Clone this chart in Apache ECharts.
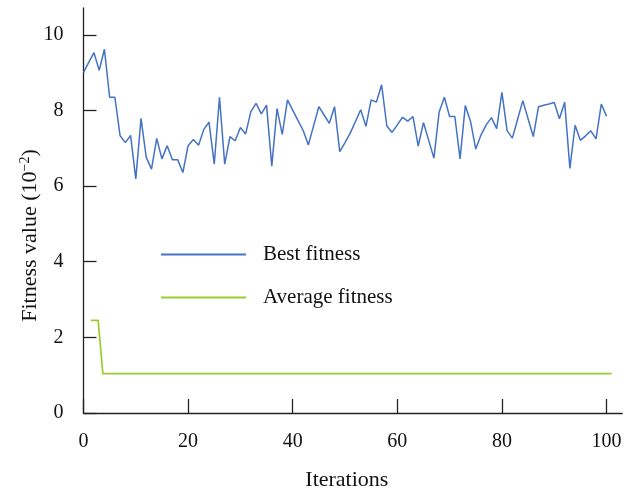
<!DOCTYPE html>
<html>
<head>
<meta charset="utf-8">
<script src="https://cdn.jsdelivr.net/npm/echarts@6/dist/echarts.min.js"></script>
<style>
  html, body { margin: 0; padding: 0; background: #fff; }
  #chart { width: 625px; height: 490px; }
</style>
</head>
<body>
<div id="chart"></div>
<script>
// Best fitness per iteration (units of 10^-2)
const bestIterations = Array.from({ length: 101 }, (_, i) => i);
const bestFitness = [
  9.01, 9.27, 9.53, 9.06, 9.62, 8.35, 8.35, 7.33, 7.15, 7.34,
  6.19, 7.79, 6.76, 6.45, 7.26, 6.72, 7.07, 6.70, 6.70, 6.36,
  7.07, 7.23, 7.08, 7.50, 7.69, 6.58, 8.35, 6.58, 7.31, 7.20,
  7.55, 7.38, 7.97, 8.19, 7.91, 8.14, 6.53, 8.05, 7.37, 8.28,
  8.01, 7.74, 7.47, 7.09, 7.60, 8.10, 7.88, 7.66, 8.10, 6.91,
  7.15, 7.40, 7.71, 8.02, 7.58, 8.28, 8.22, 8.68, 7.59, 7.42,
  7.62, 7.82, 7.72, 7.84, 7.06, 7.68, 7.21, 6.74, 7.96, 8.35,
  7.84, 7.84, 6.72, 8.13, 7.71, 6.98, 7.35, 7.62, 7.81, 7.52,
  8.48, 7.46, 7.27, 7.77, 8.26, 7.78, 7.31, 8.10, 8.14, 8.17,
  8.21, 7.78, 8.22, 6.47, 7.61, 7.21, 7.33, 7.46, 7.25, 8.17,
  7.85
];

// Average fitness: a short plateau, then a flat level to the end
const avgIterations = [1.4, 2.8, 3.7, 101];
const avgFitness = [2.45, 2.45, 1.04, 1.04];

const xTicks = [0, 20, 40, 60, 80, 100];
const yTicks = [0, 2, 4, 6, 8, 10];

const FONT = '"Liberation Serif", "Times New Roman", serif';
const AXIS_COLOR = '#222';
const TEXT_COLOR = '#111';

const chart = echarts.init(document.getElementById('chart'), null, { renderer: 'canvas' });

chart.setOption({
  animation: false,
  backgroundColor: '#fff',
  grid: { left: 83.5, top: 8, width: 538.7, height: 405, containLabel: false, outerBoundsMode: 'none' },
  legend: {
    orient: 'vertical',
    left: 155,
    top: 239,
    itemWidth: 85,
    itemHeight: 14,
    itemGap: 22,
    itemStyle: { opacity: 0 },
    textStyle: { fontFamily: FONT, fontSize: 21, color: TEXT_COLOR, padding: [0, 0, 0, 12] },
    data: ['Best fitness', 'Average fitness']
  },
  xAxis: {
    type: 'value',
    min: 0,
    max: 103,
    name: 'Iterations',
    nameLocation: 'middle',
    nameGap: 56,
    nameTextStyle: { fontFamily: FONT, fontSize: 22, color: TEXT_COLOR, padding: [0, 12, 0, 0] },
    splitLine: { show: false },
    axisLine: { lineStyle: { color: AXIS_COLOR, width: 1.3 } },
    axisTick: { inside: true, length: 14, customValues: xTicks, lineStyle: { color: AXIS_COLOR, width: 1.3 } },
    axisLabel: { customValues: xTicks, margin: 19, fontFamily: FONT, fontSize: 20, color: TEXT_COLOR }
  },
  yAxis: {
    type: 'value',
    min: 0,
    max: 10.71,
    name: 'Fitness value (10{sup|−2})',
    nameLocation: 'middle',
    nameRotate: 90,
    nameGap: 41,
    nameMoveOverlap: false,
    nameTextStyle: {
      fontFamily: FONT, fontSize: 22, color: TEXT_COLOR, padding: [0, 50, 0, 0],
      rich: { sup: { fontFamily: FONT, fontSize: 14, color: TEXT_COLOR, verticalAlign: 'top', padding: [0, 0, 10, 0] } }
    },
    splitLine: { show: false },
    axisLine: { show: true, lineStyle: { color: AXIS_COLOR, width: 1.3 } },
    axisTick: { show: true, inside: true, length: 13, customValues: yTicks, lineStyle: { color: AXIS_COLOR, width: 1.3 } },
    axisLabel: { customValues: yTicks, margin: 20, fontFamily: FONT, fontSize: 20, color: TEXT_COLOR }
  },
  series: [
    {
      name: 'Best fitness',
      type: 'line',
      symbol: 'none',
      lineStyle: { color: '#4472C4', width: 1.5 },
      itemStyle: { color: '#4472C4' },
      data: bestIterations.map((x, i) => [x, bestFitness[i]])
    },
    {
      name: 'Average fitness',
      type: 'line',
      symbol: 'none',
      lineStyle: { color: '#9BCB2E', width: 1.7 },
      itemStyle: { color: '#9BCB2E' },
      data: avgIterations.map((x, i) => [x, avgFitness[i]])
    }
  ]
});
</script>
</body>
</html>
